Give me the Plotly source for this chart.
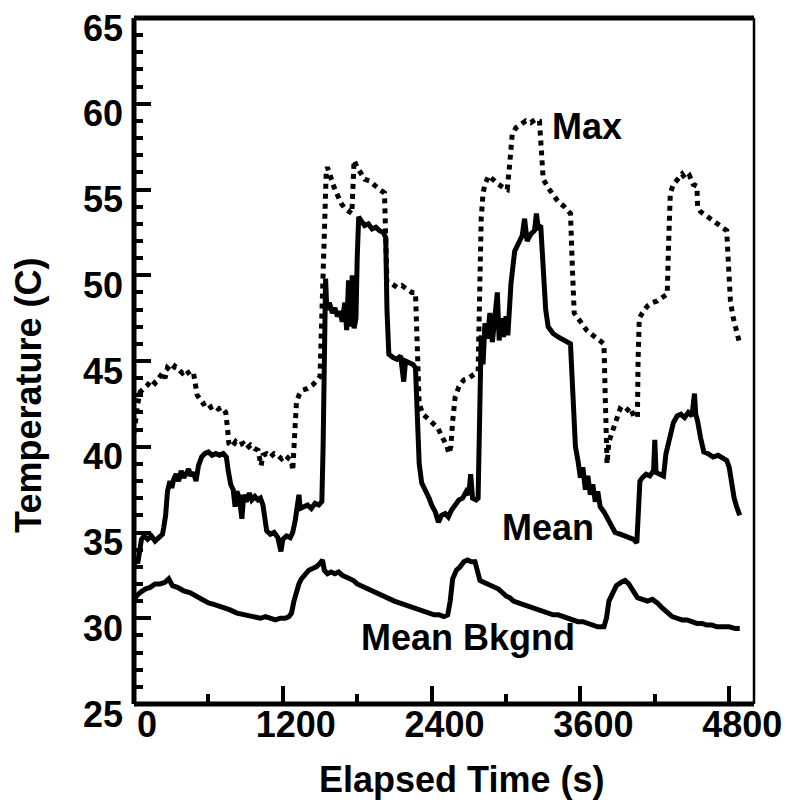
import plotly.graph_objects as go

# ---------------- data ----------------
max_t = [0, 15, 30, 50, 80, 110, 140, 170, 200, 230, 250, 270, 300, 330, 360, 390, 420, 450, 480, 495,
         510, 530, 560, 590, 620, 650, 680, 710, 740, 755, 765, 790, 820, 850, 880, 910, 940, 970, 1000, 1025,
         1040, 1070, 1100, 1130, 1160, 1190, 1220, 1250, 1270, 1280, 1295, 1310, 1330, 1360, 1400, 1440, 1480, 1500, 1510, 1520,
         1530, 1540, 1550, 1560, 1580, 1610, 1640, 1670, 1700, 1730, 1757, 1765, 1775, 1800, 1830, 1860, 1900, 1940, 1980, 2020,
         2030, 2040, 2080, 2120, 2160, 2200, 2240, 2270, 2280, 2290, 2300, 2330, 2370, 2410, 2450, 2490, 2520, 2540, 2555, 2570,
         2590, 2620, 2660, 2700, 2740, 2775, 2785, 2800, 2815, 2830, 2860, 2900, 2940, 2980, 3010, 3030, 3050, 3080, 3120, 3160,
         3200, 3240, 3270, 3285, 3300, 3340, 3380, 3420, 3470, 3520, 3535, 3550, 3600, 3650, 3700, 3750, 3790, 3800, 3815, 3830,
         3860, 3890, 3920, 3960, 4000, 4030, 4060, 4065, 4075, 4100, 4140, 4180, 4220, 4260, 4300, 4310, 4325, 4350, 4380, 4420,
         4450, 4480, 4510, 4540, 4545, 4570, 4610, 4650, 4700, 4750, 4780, 4795, 4810, 4830, 4860, 4885]
max_v = [40.8, 41.8, 42.5, 43.2, 43.4, 43.6, 43.9, 43.7, 44.0, 44.3, 44.0, 44.6, 44.4, 44.7, 44.5, 44.3, 44.5, 44.2, 44.3, 43.5,
         43.0, 42.8, 42.5, 42.6, 42.3, 42.4, 42.2, 42.3, 42.0, 41.0, 40.2, 40.0, 40.3, 40.1, 40.2, 39.9, 40.1, 39.9, 39.8, 38.9,
         39.5, 39.6, 39.4, 39.6, 39.5, 39.3, 39.5, 39.3, 39.2, 38.6, 40.5, 42.6, 43.0, 43.3, 43.4, 43.6, 43.9, 44.1, 46.5, 49.5,
         52.0, 54.5, 56.0, 56.3, 55.8, 55.2, 54.7, 54.2, 53.9, 53.7, 53.6, 55.0, 56.7, 56.3, 56.0, 55.6, 55.5, 55.2, 55.0, 54.8,
         52.0, 49.6, 49.5, 49.3, 49.4, 49.2, 49.0, 49.0, 46.5, 44.6, 42.5, 41.9, 41.6, 41.3, 41.1, 40.5, 40.1, 39.6, 40.0, 41.5,
         42.9, 43.5, 43.9, 44.0, 44.2, 44.4, 48.0, 53.3, 54.8, 55.3, 55.8, 55.5, 55.3, 55.1, 55.0, 56.5, 58.2, 58.6, 58.8, 59.0,
         58.9, 59.1, 59.0, 57.0, 55.6, 55.1, 54.7, 54.3, 54.0, 53.6, 50.5, 47.8, 47.3, 46.8, 46.5, 46.2, 46.0, 43.0, 39.0, 40.3,
         41.0, 41.6, 42.2, 42.0, 42.3, 41.8, 41.7, 45.0, 47.5, 47.8, 48.2, 48.4, 48.5, 48.7, 48.9, 51.5, 54.8, 55.3, 55.6, 55.9,
         55.6, 55.8, 55.3, 55.2, 54.0, 53.7, 53.5, 53.3, 53.0, 52.8, 52.6, 50.5, 48.5, 47.6, 46.8, 46.0]

mean_t = [0, 15, 30, 45, 60, 80, 110, 140, 170, 200, 230, 240, 255, 270, 290, 305, 320, 340, 360, 380,
          400, 420, 440, 460, 480, 500, 520, 545, 570, 600, 630, 660, 690, 720, 745, 760, 780, 800, 815, 830,
          850, 870, 885, 905, 930, 950, 975, 1000, 1020, 1040, 1055, 1070, 1100, 1130, 1160, 1185, 1200, 1230, 1260, 1280,
          1300, 1315, 1330, 1340, 1370, 1400, 1430, 1460, 1490, 1515, 1525, 1535, 1545, 1555, 1575, 1600, 1620, 1640, 1660, 1680,
          1700, 1715, 1730, 1745, 1760, 1775, 1790, 1800, 1812, 1830, 1860, 1890, 1920, 1950, 1980, 2010, 2030, 2040, 2055, 2090,
          2120, 2150, 2175, 2190, 2220, 2250, 2270, 2285, 2300, 2320, 2350, 2380, 2400, 2430, 2455, 2480, 2510, 2535, 2560, 2590,
          2620, 2650, 2680, 2700, 2715, 2730, 2760, 2775, 2785, 2800, 2815, 2830, 2850, 2870, 2890, 2910, 2930, 2945, 2960, 2980,
          3000, 3015, 3040, 3070, 3100, 3130, 3150, 3170, 3200, 3230, 3245, 3260, 3280, 3300, 3320, 3340, 3380, 3420, 3470, 3520,
          3540, 3560, 3580, 3600, 3620, 3640, 3660, 3680, 3700, 3720, 3740, 3760, 3790, 3820, 3850, 3880, 3920, 3960, 4000, 4030,
          4055, 4065, 4080, 4100, 4130, 4160, 4190, 4200, 4210, 4240, 4270, 4290, 4320, 4350, 4380, 4410, 4440, 4470, 4500, 4520,
          4530, 4545, 4570, 4595, 4630, 4670, 4710, 4750, 4780, 4800, 4820, 4840, 4860, 4885]
mean_v = [33.0, 33.5, 33.2, 34.0, 34.6, 34.8, 34.6, 34.8, 34.5, 34.7, 34.9, 35.3, 36.0, 37.4, 38.0, 37.6, 38.1, 38.4, 38.0, 38.6,
          38.2, 38.4, 38.7, 38.3, 38.5, 38.0, 38.9, 39.4, 39.6, 39.7, 39.5, 39.6, 39.5, 39.6, 39.4, 38.6, 37.8, 37.5, 36.5, 37.4,
          37.0, 35.8, 37.2, 36.8, 37.3, 36.9, 37.1, 36.9, 37.0, 36.6, 35.5, 35.1, 34.9, 35.0, 34.7, 33.9, 34.6, 34.8, 34.7, 35.0,
          35.7, 36.3, 37.2, 36.4, 36.5, 36.6, 36.4, 36.7, 36.6, 36.8, 40.0, 45.0, 49.8, 48.0, 48.4, 47.8, 48.1, 47.6, 47.9, 47.3,
          48.4, 46.8, 49.7, 47.0, 50.0, 46.9, 47.5, 51.0, 53.4, 53.2, 52.9, 53.0, 52.7, 52.8, 52.6, 52.5, 52.2, 48.0, 45.4, 45.2,
          45.1, 45.3, 43.8, 45.0, 44.9, 44.8, 44.6, 41.5, 39.0, 37.9, 37.5, 37.0, 36.6, 36.2, 35.6, 36.0, 36.1, 35.9, 36.3, 36.6,
          36.9, 37.0, 37.4, 37.2, 38.4, 37.0, 36.9, 37.0, 42.0, 46.5, 44.8, 47.2, 46.3, 47.8, 46.1, 47.3, 49.0, 46.2, 47.5, 46.4,
          47.6, 46.5, 49.5, 51.4, 51.9, 52.3, 53.3, 52.0, 52.4, 52.6, 53.6, 52.8, 52.9, 50.0, 48.0, 47.0, 46.6, 46.4, 46.2, 46.0,
          43.0, 40.0, 39.2, 38.2, 38.8, 37.5, 38.3, 37.2, 37.8, 36.8, 37.4, 36.5, 36.2, 35.8, 35.3, 35.0, 34.9, 34.8, 34.7, 34.6,
          34.4, 36.5, 38.0, 38.2, 38.4, 38.3, 38.6, 40.4, 38.5, 38.4, 38.3, 39.6, 40.5, 41.4, 41.8, 41.9, 41.7, 42.0, 41.8, 43.1,
          41.9, 41.5, 40.5, 39.7, 39.6, 39.4, 39.5, 39.3, 39.2, 38.8, 37.8, 37.0, 36.5, 36.0]

bkg_t = [0, 20, 50, 90, 130, 170, 210, 250, 280, 310, 350, 400, 450, 500, 550, 600, 650, 700, 770, 830,
         900, 980, 1020, 1060, 1100, 1140, 1180, 1220, 1250, 1270, 1290, 1310, 1330, 1350, 1380, 1410, 1440, 1470, 1500, 1520,
         1535, 1560, 1590, 1620, 1650, 1680, 1710, 1740, 1770, 1800, 1830, 1860, 1900, 1940, 1980, 2020, 2060, 2100, 2140, 2180,
         2220, 2260, 2300, 2340, 2380, 2420, 2460, 2500, 2530, 2550, 2570, 2600, 2630, 2660, 2690, 2720, 2750, 2770, 2790, 2820,
         2850, 2880, 2910, 2940, 2970, 3000, 3030, 3060, 3100, 3140, 3180, 3220, 3260, 3300, 3340, 3380, 3420, 3460, 3500, 3540,
         3580, 3620, 3660, 3700, 3740, 3790, 3810, 3830, 3860, 3890, 3930, 3960, 3990, 4030, 4060, 4100, 4140, 4180, 4220, 4260,
         4300, 4340, 4380, 4420, 4460, 4500, 4540, 4580, 4620, 4660, 4700, 4750, 4800, 4850, 4885]
bkg_v = [31.0, 31.3, 31.5, 31.7, 31.8, 32.0, 32.0, 32.1, 32.3, 31.9, 31.8, 31.6, 31.5, 31.3, 31.1, 30.9, 30.8, 30.7, 30.5, 30.3,
         30.2, 30.1, 30.0, 30.1, 30.0, 29.9, 30.0, 30.0, 30.1, 30.3, 31.0, 31.6, 32.0, 32.3, 32.6, 32.8, 32.9, 33.0, 33.2, 33.4,
         32.8, 32.6, 32.7, 32.6, 32.7, 32.5, 32.4, 32.3, 32.2, 32.0, 31.9, 31.8, 31.6, 31.5, 31.4, 31.2, 31.1, 31.0, 30.9, 30.8,
         30.7, 30.6, 30.5, 30.4, 30.3, 30.2, 30.2, 30.1, 30.2, 31.0, 32.3, 32.8, 33.0, 33.3, 33.4, 33.3, 33.3, 32.7, 32.2, 32.1,
         32.0, 31.9, 31.8, 31.7, 31.5, 31.3, 31.2, 31.0, 30.9, 30.8, 30.7, 30.6, 30.5, 30.4, 30.3, 30.2, 30.2, 30.1, 30.0, 29.9,
         29.8, 29.8, 29.7, 29.6, 29.5, 29.5, 30.0, 31.0, 31.5, 31.9, 32.1, 32.2, 32.0, 31.6, 31.2, 31.1, 31.0, 31.1, 30.9, 30.6,
         30.3, 30.1, 30.0, 29.9, 29.9, 29.8, 29.7, 29.7, 29.6, 29.6, 29.5, 29.5, 29.5, 29.4, 29.4]

x_ticks = [0, 1200, 2400, 3600, 4800]
y_ticks = [25, 30, 35, 40, 45, 50, 55, 60, 65]

labels = ["Max", "Mean", "Mean Bkgnd"]

# ---------------- figure ----------------
FONT = "Liberation Sans, Arial, Helvetica, sans-serif"
fig = go.Figure()
fig.add_trace(go.Scatter(x=max_t, y=max_v, mode="lines",
                         line=dict(color="black", width=5, dash="5px,5px"), name="Max"))
fig.add_trace(go.Scatter(x=mean_t, y=mean_v, mode="lines",
                         line=dict(color="black", width=5), name="Mean"))
fig.add_trace(go.Scatter(x=bkg_t, y=bkg_v, mode="lines",
                         line=dict(color="black", width=5), name="Mean Bkgnd"))

tickfont = dict(family=FONT, size=36, color="black", weight="bold")

fig.update_layout(
    width=790, height=805,
    margin=dict(l=134, r=32, t=8, b=101),
    paper_bgcolor="white", plot_bgcolor="white",
    showlegend=False,
    xaxis=dict(range=[0, 5000], tickvals=x_ticks, ticktext=[str(v) for v in x_ticks],
               ticks="inside", ticklen=18, tickwidth=3.5, tickcolor="black",
               minor=dict(dtick=600, tick0=0, ticks="inside", ticklen=10, tickwidth=3.5, tickcolor="black"),
               showgrid=False, zeroline=False, showline=False, ticklabeloverflow="allow",
               tickfont=tickfont, ticklabelshift=13, ticklabelstandoff=-4),
    yaxis=dict(range=[25, 65], tickvals=y_ticks, ticktext=[str(v) for v in y_ticks],
               ticks="inside", ticklen=17, tickwidth=3.5, tickcolor="black",
               minor=dict(dtick=1, tick0=25, ticks="inside", ticklen=9, tickwidth=3.5, tickcolor="black"),
               showgrid=False, zeroline=False, showline=False, ticklabeloverflow="allow",
               tickfont=tickfont, ticklabelshift=10, ticklabelstandoff=10),
)

# frame
fig.add_shape(type="line", xref="paper", yref="paper", x0=0, x1=0, y0=0, y1=1,
              line=dict(color="black", width=5))
fig.add_shape(type="line", xref="paper", yref="paper", x0=0, x1=1, y0=0, y1=0,
              line=dict(color="black", width=5))
fig.add_shape(type="line", xref="paper", yref="paper", x0=0, x1=1, y0=1, y1=1,
              line=dict(color="black", width=5))
fig.add_shape(type="line", xref="paper", yref="paper", x0=1, x1=1, y0=0, y1=1,
              line=dict(color="black", width=2.5))

# axis titles
fig.add_annotation(text="Elapsed Time (s)", xref="paper", yref="paper", x=0.529, y=-0.11,
                   showarrow=False, xanchor="center", yanchor="middle",
                   font=dict(family=FONT, size=36, color="black", weight="bold"))
fig.add_annotation(text="Temperature (C)", xref="paper", yref="paper", x=-0.17, y=0.45,
                   showarrow=False, xanchor="center", yanchor="middle", textangle=-90,
                   font=dict(family=FONT, size=36, color="black", weight="bold"))

# series labels
lab_font = dict(family=FONT, size=36, color="black", weight="bold")
fig.add_annotation(text=labels[0], x=3357, y=58.7, xanchor="left", yanchor="middle", showarrow=False, font=lab_font)
fig.add_annotation(text=labels[1], x=2949, y=35.3, xanchor="left", yanchor="middle", showarrow=False, font=lab_font)
fig.add_annotation(text=labels[2], x=3574, y=28.9, xanchor="right", yanchor="middle", showarrow=False, font=lab_font)

fig.write_html("out.html", config={"displayModeBar": False},
               post_script="document.body.style.margin='0px';")
